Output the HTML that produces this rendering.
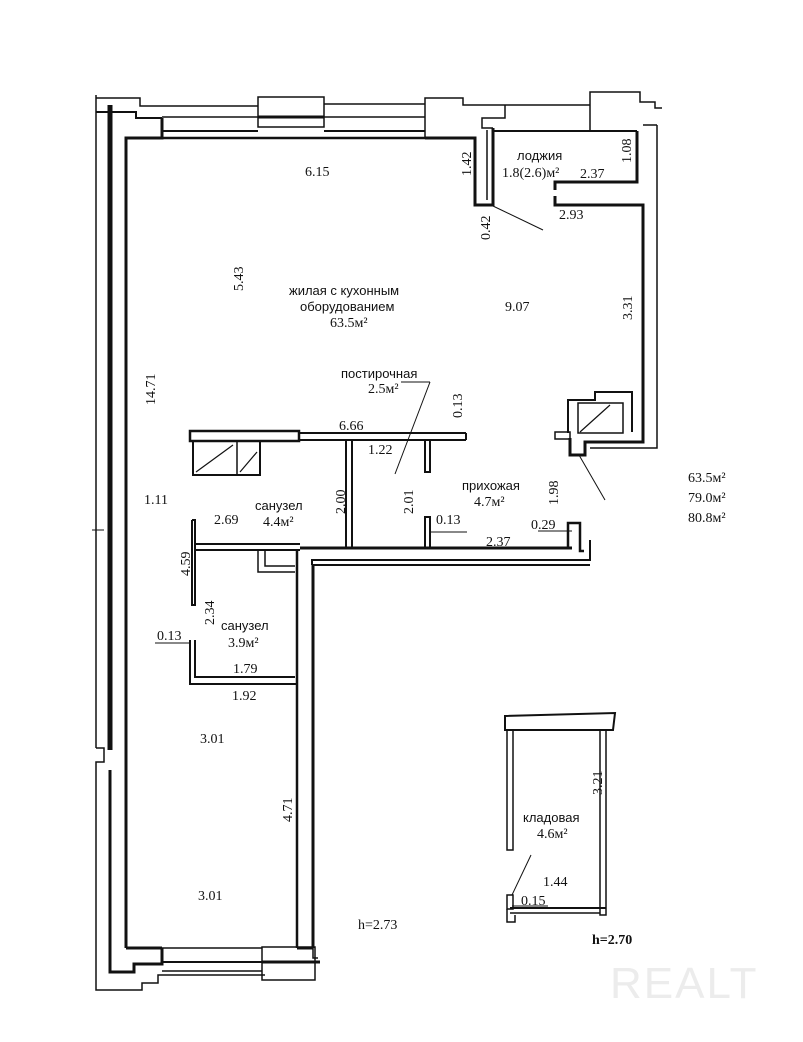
<!DOCTYPE html>
<html><head><meta charset="utf-8"><style>
html,body{margin:0;padding:0;background:#fff;}
svg{display:block;}
text{font-family:"Liberation Serif",serif;fill:#111;}
.s{font-family:"Liberation Sans",sans-serif;}
</style></head><body>
<svg width="803" height="1042" viewBox="0 0 803 1042" xmlns="http://www.w3.org/2000/svg">
<g fill="none" stroke="#111" stroke-linejoin="miter">
<line x1="96" y1="95" x2="96" y2="748" stroke-width="1.5"/>
<line x1="110" y1="105" x2="110" y2="750" stroke-width="5"/>
<polyline points="96,748 104,748 104,762 96,762 96,990 142,990 142,983 158,983 158,975 265,975" stroke-width="1.5"/>
<polyline points="110,770 110,972 134,972 134,964 162,964 162,948" stroke-width="3"/>
<line x1="92" y1="530" x2="104" y2="530" stroke-width="1"/>
<polyline points="126,948 126,138 162,138 162,118" stroke-width="3"/>
<polyline points="96,98 140,98 140,106 258,106" stroke-width="1.5"/>
<polyline points="96,112 136,112 136,118 162,118" stroke-width="2"/>
<line x1="162" y1="117" x2="258" y2="117" stroke-width="1.5"/>
<line x1="162" y1="131" x2="258" y2="131" stroke-width="2"/>
<rect x="258" y="97" width="66" height="30" stroke-width="1.5"/>
<line x1="258" y1="117" x2="324" y2="117" stroke-width="3"/>
<line x1="324" y1="104" x2="425" y2="104" stroke-width="1.5"/>
<line x1="324" y1="117" x2="425" y2="117" stroke-width="1.5"/>
<line x1="324" y1="131" x2="425" y2="131" stroke-width="2"/>
<line x1="126" y1="138" x2="425" y2="138" stroke-width="2.5"/>
<polyline points="425,138 425,98 463,98 463,105 505,105" stroke-width="1.5"/>
<polyline points="425,138 475,138 475,205 493,205 493,128" stroke-width="3"/>
<polyline points="505,105 505,118 482,118 482,128 493,128" stroke-width="1.5"/>
<line x1="487" y1="130" x2="487" y2="200" stroke-width="1.5"/>
<line x1="493" y1="131" x2="637" y2="131" stroke-width="2"/>
<line x1="505" y1="105" x2="590" y2="105" stroke-width="1.5"/>
<polyline points="590,131 590,92 640,92 640,102 655,102 655,108 662,108" stroke-width="1.5"/>
<polyline points="637,131 637,182 555,182 555,190" stroke-width="3"/>
<polyline points="555,196 555,205 643,205 643,442 585,442 585,455 570,455 570,438" stroke-width="3"/>
<polyline points="657,125 657,448 590,448" stroke-width="1.5"/>
<line x1="643" y1="125" x2="657" y2="125" stroke-width="1.5"/>
<line x1="493" y1="206" x2="543" y2="230" stroke-width="1"/>
<polyline points="568,433 568,400 595,400 595,392 632,392 632,432" stroke-width="2"/>
<rect x="578" y="403" width="45" height="30" stroke-width="1.5"/>
<line x1="580" y1="432" x2="610" y2="405" stroke-width="1.2"/>
<rect x="555" y="432" width="15" height="7" stroke-width="1.5"/>
<line x1="579" y1="455" x2="605" y2="500" stroke-width="1"/>
<rect x="190" y="431" width="109" height="10" stroke-width="2.5"/>
<line x1="299" y1="433" x2="466" y2="433" stroke-width="2"/>
<line x1="299" y1="440" x2="466" y2="440" stroke-width="2"/>
<line x1="466" y1="433" x2="466" y2="440" stroke-width="2"/>
<polyline points="193,441 193,475 260,475 260,441" stroke-width="2"/>
<line x1="237" y1="441" x2="237" y2="475" stroke-width="1.5"/>
<line x1="196" y1="472" x2="233" y2="445" stroke-width="1.2"/>
<line x1="240" y1="472" x2="257" y2="452" stroke-width="1.2"/>
<polyline points="346,440 346,548" stroke-width="2"/>
<polyline points="352,440 352,548" stroke-width="2"/>
<polyline points="425,440 425,472 430,472 430,440" stroke-width="2"/>
<polyline points="425,548 425,517 430,517 430,548" stroke-width="2"/>
<line x1="401" y1="382" x2="430" y2="382" stroke-width="1"/>
<line x1="430" y1="382" x2="395" y2="474" stroke-width="1"/>
<line x1="431" y1="532" x2="467" y2="532" stroke-width="1"/>
<polyline points="192,520 192,605 195,605 195,520 192,520" stroke-width="2"/>
<line x1="195" y1="544" x2="300" y2="544" stroke-width="2"/>
<line x1="195" y1="550" x2="300" y2="550" stroke-width="2"/>
<line x1="300" y1="548" x2="572" y2="548" stroke-width="3"/>
<polyline points="568,548 568,523 580,523 580,551 584,551" stroke-width="2.5"/>
<line x1="538" y1="531" x2="572" y2="531" stroke-width="1"/>
<polyline points="312,565 312,560 590,560 590,540" stroke-width="2"/>
<polyline points="312,565 590,565" stroke-width="2"/>
<polyline points="258,550 258,572 295,572" stroke-width="1.5"/>
<polyline points="265,550 265,566 295,566" stroke-width="1.5"/>
<line x1="297" y1="550" x2="297" y2="948" stroke-width="2.5"/>
<line x1="313" y1="565" x2="313" y2="948" stroke-width="3"/>
<polyline points="313,948 313,958 318,958" stroke-width="1.5"/>
<polyline points="190,640 190,684 297,684" stroke-width="2"/>
<polyline points="195,640 195,677 295,677" stroke-width="2"/>
<line x1="155" y1="643" x2="190" y2="643" stroke-width="1"/>
<line x1="126" y1="948" x2="162" y2="948" stroke-width="3"/>
<line x1="162" y1="948" x2="262" y2="948" stroke-width="1.5"/>
<line x1="162" y1="962" x2="262" y2="962" stroke-width="2"/>
<line x1="162" y1="971" x2="262" y2="971" stroke-width="1.5"/>
<rect x="262" y="947" width="53" height="33" stroke-width="1.5"/>
<line x1="262" y1="962" x2="320" y2="962" stroke-width="3"/>
<line x1="297" y1="948" x2="313" y2="948" stroke-width="3"/>
<polygon points="505,716 615,713 613,730 505,730" stroke-width="2"/>
<rect x="507" y="730" width="6" height="120" stroke-width="1.5"/>
<rect x="600" y="730" width="6" height="185" stroke-width="1.5"/>
<polyline points="510,908 606,908" stroke-width="2"/>
<polyline points="510,913 600,913" stroke-width="1.5"/>
<rect x="507" y="895" width="6" height="14" stroke-width="1.5"/>
<polyline points="507,909 507,922 515,922 515,915" stroke-width="1.5"/>
<line x1="531" y1="855" x2="512" y2="895" stroke-width="1"/>
<line x1="512" y1="906" x2="548" y2="906" stroke-width="1"/>
</g>
<g font-size="14">
<text x="305" y="176">6.15</text>
<text x="517" y="160" class="s" font-size="13">лоджия</text>
<text x="502" y="177" font-size="14">1.8(2.6)м²</text>
<text x="580" y="178">2.37</text>
<text x="559" y="219">2.93</text>
<text x="289" y="295" class="s" font-size="13">жилая с кухонным</text>
<text x="300" y="311" class="s" font-size="13">оборудованием</text>
<text x="330" y="327">63.5м²</text>
<text x="505" y="311">9.07</text>
<text x="341" y="378" class="s" font-size="13">постирочная</text>
<text x="368" y="393">2.5м²</text>
<text x="339" y="430">6.66</text>
<text x="368" y="454">1.22</text>
<text x="462" y="490" class="s" font-size="13">прихожая</text>
<text x="474" y="506">4.7м²</text>
<text x="436" y="524">0.13</text>
<text x="531" y="529">0.29</text>
<text x="486" y="546">2.37</text>
<text x="144" y="504">1.11</text>
<text x="214" y="524">2.69</text>
<text x="255" y="510" class="s" font-size="13">санузел</text>
<text x="263" y="526">4.4м²</text>
<text x="221" y="630" class="s" font-size="13">санузел</text>
<text x="228" y="647">3.9м²</text>
<text x="157" y="640">0.13</text>
<text x="233" y="673">1.79</text>
<text x="232" y="700">1.92</text>
<text x="200" y="743">3.01</text>
<text x="198" y="900">3.01</text>
<text x="358" y="929">h=2.73</text>
<text x="523" y="822" class="s" font-size="13">кладовая</text>
<text x="537" y="838">4.6м²</text>
<text x="543" y="886">1.44</text>
<text x="521" y="905">0.15</text>
<text x="592" y="944" font-weight="bold">h=2.70</text>
<text x="688" y="482">63.5м²</text>
<text x="688" y="502">79.0м²</text>
<text x="688" y="522">80.8м²</text>
</g>
<g font-size="14">
<text transform="translate(471,176) rotate(-90)">1.42</text>
<text transform="translate(631,163) rotate(-90)">1.08</text>
<text transform="translate(490,240) rotate(-90)">0.42</text>
<text transform="translate(243,291) rotate(-90)">5.43</text>
<text transform="translate(632,320) rotate(-90)">3.31</text>
<text transform="translate(155,405) rotate(-90)">14.71</text>
<text transform="translate(462,418) rotate(-90)">0.13</text>
<text transform="translate(345,514) rotate(-90)">2.00</text>
<text transform="translate(413,514) rotate(-90)">2.01</text>
<text transform="translate(558,505) rotate(-90)">1.98</text>
<text transform="translate(190,576) rotate(-90)">4.59</text>
<text transform="translate(214,625) rotate(-90)">2.34</text>
<text transform="translate(292,822) rotate(-90)">4.71</text>
<text transform="translate(602,795) rotate(-90)">3.21</text>
</g>
<text x="610" y="998" style="font-family:'Liberation Sans',sans-serif;font-size:44px;fill:#ececec;letter-spacing:2px">REALT</text>
</svg>
</body></html>
